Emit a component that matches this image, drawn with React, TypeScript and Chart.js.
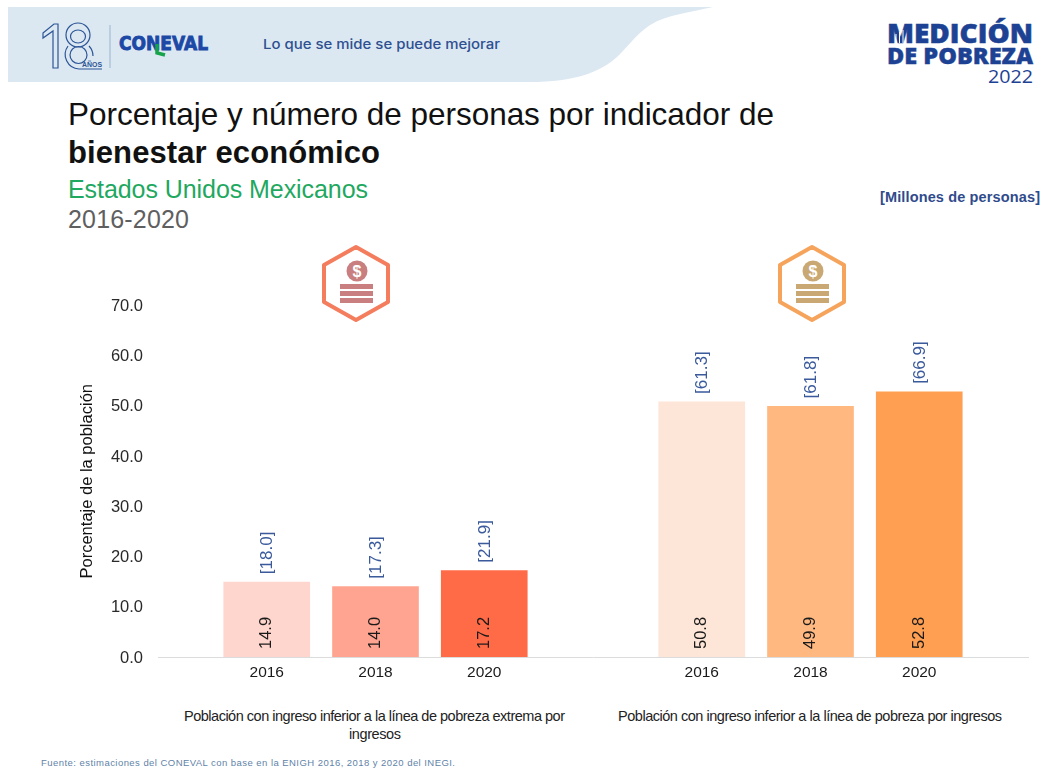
import React, { useEffect, useRef } from "react";
import { Chart, registerables } from "chart.js";

Chart.register(...registerables);

const categories = ["", "2016", "2018", "2020", "", "2016", "2018", "2020", ""];
const percentages = [null, 14.9, 14.0, 17.2, null, 50.8, 49.9, 52.8, null];
const millions = [null, 18.0, 17.3, 21.9, null, 61.3, 61.8, 66.9, null];
const barColors = ["#fff", "#fed6cd", "#ffa490", "#ff6b47", "#fff", "#fde6d7", "#ffb880", "#ff9f52", "#fff"];
const FONT = "'Liberation Sans', Arial, sans-serif";

const labelsPlugin = {
  id: "barLabels",
  afterDatasetsDraw(chart: any) {
    const ctx = chart.ctx;
    const meta = chart.getDatasetMeta(0);
    meta.data.forEach((bar: any, i: number) => {
      if (percentages[i] == null) return;
      ctx.save();
      ctx.translate(bar.x, bar.base - 8);
      ctx.rotate(-Math.PI / 2);
      ctx.textAlign = "left";
      ctx.textBaseline = "middle";
      ctx.font = `16.5px ${FONT}`;
      ctx.fillStyle = "#1a1a1a";
      ctx.fillText((percentages[i] as number).toFixed(1), 0, 0);
      ctx.restore();
      ctx.save();
      ctx.translate(bar.x + 1, bar.y - 8);
      ctx.rotate(-Math.PI / 2);
      ctx.textAlign = "left";
      ctx.textBaseline = "middle";
      ctx.font = `17px ${FONT}`;
      ctx.fillStyle = "#3a5a9c";
      ctx.fillText(`[${(millions[i] as number).toFixed(1)}]`, 0, 0);
      ctx.restore();
    });
  },
};

function Icon({ cx, stroke, fill }: { cx: number; stroke: string; fill: string }) {
  const pts = [
    [cx, 247], [cx + 32, 265], [cx + 32, 302], [cx, 320], [cx - 32, 302], [cx - 32, 265],
  ].map((p) => p.join(",")).join(" ");
  return (
    <g>
      <polygon points={pts} fill="#fff" stroke={stroke} strokeWidth={4} strokeLinejoin="round" />
      <circle cx={cx + 1} cy={271} r={10.5} fill={fill} />
      <text x={cx + 1} y={277} textAnchor="middle" fontFamily={FONT} fontWeight="bold" fontSize={16} fill="#fff">$</text>
      <rect x={cx - 16} y={284} width={33} height={5} fill={fill} />
      <rect x={cx - 16} y={291} width={33} height={5} fill={fill} />
      <rect x={cx - 16} y={298} width={33} height={5} fill={fill} />
    </g>
  );
}

function Overlay() {
  return (
    <svg width={1042} height={770} style={{ position: "absolute", left: 0, top: 0 }}>
      <path d="M8 7 L713 7 C690 12 672 15 660 20 C640 28 630 45 617 57 C600 72 575 82 530 82 L8 82 Z" fill="#dbe8f2" />
      <g fill="none" stroke="#2c5596" strokeWidth={1.2}>
        <path d="M43 33 L54 24 L58 24 L58 68 L53 68 L53 31 L43 38 Z" />
        <circle cx={78} cy={35} r={12} />
        <ellipse cx={78} cy={36.5} rx={7.5} ry={6.5} />
        <circle cx={78.5} cy={55} r={8.5} />
        <path d="M102 69 L79 69 A14.5 14.5 0 0 1 68 46 M89 46 A14.5 14.5 0 0 1 93 56" />
      </g>
      <text x={82} y={67} fontFamily={FONT} fontWeight="bold" fontSize={7} fill="#2c5596" textLength={20} lengthAdjust="spacingAndGlyphs">AÑOS</text>
      <line x1={110} y1={25} x2={110} y2={68} stroke="#9db3cf" strokeWidth={1} />
      <text x={119} y={50} fontFamily="'DejaVu Sans'" fontWeight="bold" fontSize={19} fill="#1c48a6" stroke="#1c48a6" strokeWidth={0.9} textLength={89} lengthAdjust="spacingAndGlyphs">CONEVAL</text>
      <path d="M157 44 L157 53 L165 55" fill="none" stroke="#16a34a" strokeWidth={3.5} />
      <text x={263} y={49} fontFamily="Inter, sans-serif" fontWeight={500} fontSize={13.5} fill="#2f5091" textLength={237} lengthAdjust="spacingAndGlyphs">Lo que se mide se puede mejorar</text>

      <g fill="#1d4293" fontFamily="'Open Sans', sans-serif" textAnchor="start">
        <text x={887} y={43} fontWeight={800} fontSize={26} stroke="#1d4293" strokeWidth={0.5} textLength={146} lengthAdjust="spacingAndGlyphs">MEDICIÓN</text>
        <text x={887} y={64} fontWeight={800} fontSize={22} stroke="#1d4293" strokeWidth={0.4} textLength={146} lengthAdjust="spacingAndGlyphs">DE POBREZA</text>
        <text x={988} y={83} fontSize={19} textLength={45} lengthAdjust="spacingAndGlyphs">2022</text>
      </g>
      <g stroke="#fff" strokeWidth={1}>
        <line x1={896} y1={34} x2={896} y2={43} />
        <line x1={899.5} y1={32} x2={899.5} y2={43} />
        <line x1={903} y1={30} x2={903} y2={43} />
      </g>

      <g fontFamily={FONT}>
        <text x={68} y={125} fontSize={31.5} fill="#111" textLength={706}>Porcentaje y número de personas por indicador de</text>
        <text x={68} y={163} fontSize={31} fontWeight="bold" fill="#111" textLength={312}>bienestar económico</text>
        <text x={68} y={198} fontSize={25} fill="#1fa85f" textLength={300}>Estados Unidos Mexicanos</text>
        <text x={68} y={228} fontSize={25} fill="#5f5f5f" textLength={121}>2016-2020</text>
        <text x={880} y={202} fontSize={14.5} fontWeight="bold" fill="#2f4b8c" textLength={160}>[Millones de personas]</text>
        <text x={184} y={721} fontSize={14.5} fill="#222" textLength={381}>Población con ingreso inferior a la línea de pobreza extrema por</text>
        <text x={349} y={739} fontSize={14.5} fill="#222" textLength={52}>ingresos</text>
        <text x={618} y={721} fontSize={14.5} fill="#222" textLength={384}>Población con ingreso inferior a la línea de pobreza por ingresos</text>
        <text x={41} y={766} fontSize={9.5} fill="#5f83a8" textLength={414}>Fuente: estimaciones del CONEVAL con base en la ENIGH 2016, 2018 y 2020 del INEGI.</text>
      </g>

      <Icon cx={356} stroke="#f47d5e" fill="#c97f80" />
      <Icon cx={812} stroke="#f6a45c" fill="#caa873" />
    </svg>
  );
}

export default function App() {
  const ref = useRef<HTMLCanvasElement>(null);
  useEffect(() => {
    const chart = new Chart(ref.current as HTMLCanvasElement, {
      type: "bar",
      data: {
        labels: categories,
        datasets: [{ data: percentages as any, backgroundColor: barColors, barThickness: 86 } as any],
      },
      plugins: [labelsPlugin],
      options: {
        responsive: false,
        animation: false,
        layout: { padding: { top: 305.5, right: 14, left: 0, bottom: 0 } },
        plugins: { legend: { display: false }, tooltip: { enabled: false } },
        scales: {
          x: {
            offset: false,
            grid: { display: false, drawTicks: false },
            border: { display: true, color: "#dcdcdc", width: 1 },
            ticks: { font: { family: FONT, size: 15.5 }, color: "#1a1a1a", padding: 6, autoSkip: false, maxRotation: 0 },
            afterFit: (s: any) => { s.height = 113; },
          },
          y: {
            min: 0,
            max: 70,
            grid: { display: false, drawTicks: false },
            border: { display: false },
            ticks: {
              stepSize: 10,
              padding: 15,
              labelOffset: 1,
              font: { family: FONT, size: 16.5 },
              color: "#2a2a2a",
              callback: (v: any) => Number(v).toFixed(1),
            },
            title: {
              display: true,
              text: "Porcentaje de la población",
              font: { family: FONT, size: 16.5 },
              color: "#111",
              padding: { top: 78, bottom: 0 },
            },
            afterFit: (s: any) => { s.width = 158; },
          },
        },
      } as any,
    });
    return () => chart.destroy();
  }, []);
  return (
    <div style={{ position: "absolute", left: 0, top: 0, width: 1042, height: 770, overflow: "hidden", background: "#fff" }}>
      <Overlay />
      <canvas ref={ref} width={1042} height={770} style={{ position: "absolute", left: 0, top: 0 }} />
    </div>
  );
}
